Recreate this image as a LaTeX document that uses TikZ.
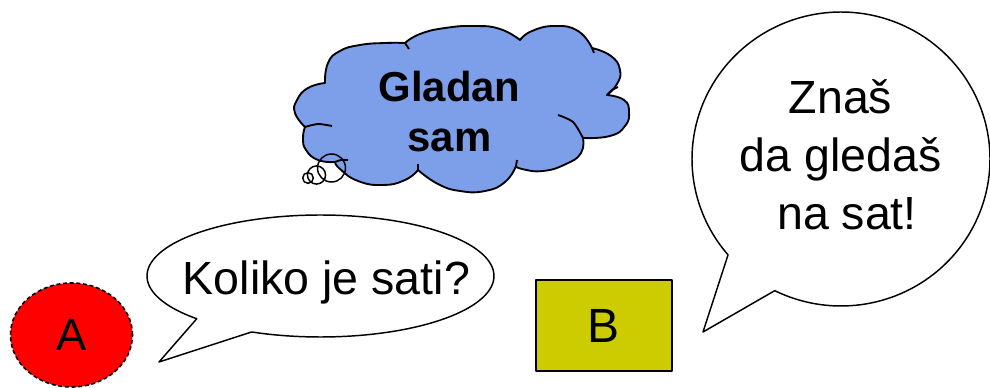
\documentclass[tikz,border=0pt]{standalone}
\usepackage{fontspec}
\setmainfont{Liberation Sans}
\usetikzlibrary{shapes.geometric}
\definecolor{cloudblue}{RGB}{125,158,232}
\definecolor{boxolive}{RGB}{204,204,0}
\begin{document}
\begin{tikzpicture}[x=0.75pt,y=-0.75pt,line join=round,
  bubble/.style={draw=black,fill=white,line width=1.1pt},
  cloudline/.style={draw=black,line width=1.4pt},
  puff/.style={smooth,tension=0.85},
  bigtext/.style={font=\fontsize{34.9}{43.5}\selectfont,align=center,inner sep=0pt}]
\useasboundingbox (0,0) rectangle (990,388);

% thought cloud
\filldraw[cloudline,fill=cloudblue]
  plot[puff] coordinates {(335,162)(318,160)(306,150)(303,138)(305,127)}
  -- plot[puff] coordinates {(305,127)(295,113)(297,100)(308,88)(325,83)}
  -- plot[puff] coordinates {(325,83)(328,63)(340,51)(360,45)(385,43)(405,43)}
  -- plot[puff] coordinates {(405,43)(420,34)(445,28)(475,26)(500,29)(520,40)}
  -- plot[puff] coordinates {(520,40)(532,31)(555,26)(578,31)(592,48)}
  -- plot[puff] coordinates {(592,48)(611,56)(620,70)(617,84)(607,95)}
  -- plot[puff] coordinates {(607,95)(624,100)(629,112)(625,126)(610,136)(583,138)}
  -- plot[puff] coordinates {(583,138)(581,153)(566,164)(543,171)(522,169)(516,166)}
  -- plot[puff] coordinates {(516,166)(505,182)(485,191)(460,191)(438,184)(418,170)}
  -- plot[puff] coordinates {(418,170)(405,180)(383,185)(358,181)(340,169)(335,162)}
  -- cycle;
\draw[cloudline] plot[smooth] coordinates {(305,127)(318,124)(332,126)};
\draw[cloudline] plot[smooth] coordinates {(558,115)(573,122)(583,138)};
\draw[cloudline] plot[smooth] coordinates {(607,95)(612,90)(618,87)};
\draw[cloudline] plot[smooth] coordinates {(335,162)(341,160)(348,160)};
\draw[cloudline] (592,48) -- (594,53);
\draw[cloudline] (516,166) -- (517,160);
\draw[cloudline] (418,170) -- (418,164);
\draw[cloudline] (405,43) -- (409,49);
\draw[cloudline,line width=1.1pt] (331.5,168) circle[radius=10.5pt];
\draw[cloudline,line width=1.1pt] (316.5,175) circle[radius=6.8pt];
\draw[cloudline,line width=1.1pt] (308,178) circle[radius=4pt];
\node[font=\bfseries\fontsize{31.4}{37.5}\selectfont,align=center,inner sep=0pt]
  (think) at (449.5,111.4) {Gladan\\sam};

% speech bubble of A
\filldraw[bubble] plot[domain=113.4:-224.5,samples=160]
  ({320.5+173.5*cos(\x)},{276+61*sin(\x)}) -- (159,362) -- cycle;
\node[bigtext,anchor=base] (ask) at (326.5,295) {Koliko je sati?};

% speech bubble of B
\filldraw[bubble] plot[domain=116.4:-220.7,samples=200]
  ({841+149*cos(\x)},{159+147*sin(\x)}) -- (703,332) -- cycle;
\node[bigtext] (reply) at (840.5,154.4) {Znaš\\da gledaš\\\hspace*{0.28em}na sat!};

% speakers
\node[ellipse,draw=black,dash pattern=on 3pt off 2pt,line width=1.2pt,fill=red,
  minimum width=91.5pt,minimum height=78pt,inner sep=0pt,
  font=\fontsize{34}{40}\selectfont] (A) at (71.5,335) {\raisebox{-2.2pt}{A}};
\node[rectangle,draw=black,line width=0.8pt,fill=boxolive,
  minimum width=102pt,minimum height=68.25pt,inner sep=0pt,
  font=\fontsize{36}{42}\selectfont] (B) at (604,325.5) {B};
\end{tikzpicture}
\end{document}
